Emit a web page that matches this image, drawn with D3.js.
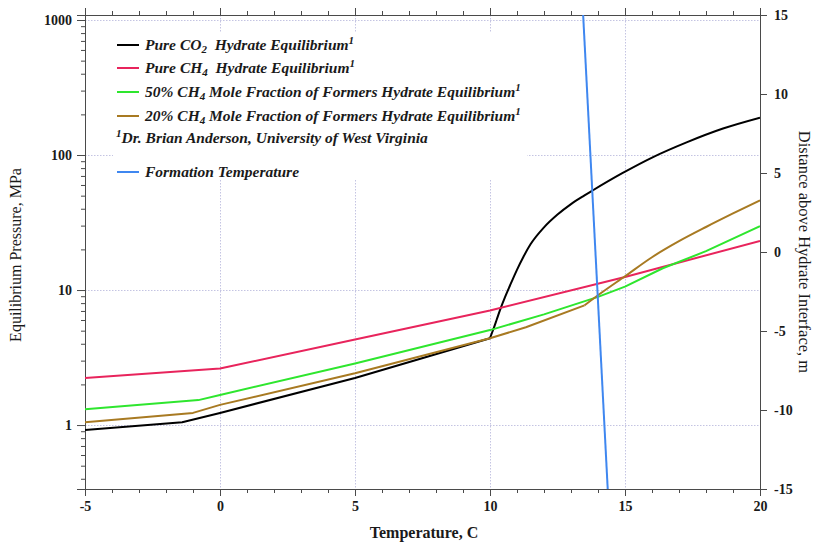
<!DOCTYPE html>
<html><head><meta charset="utf-8">
<script src="https://cdn.jsdelivr.net/npm/d3@7"></script>
<style>
body{margin:0;background:#fff}
text{font-family:"Liberation Serif","DejaVu Serif",serif;}
</style>
</head><body>
<svg id="c" width="815" height="544"></svg>
<script>
// ---- data ----
const co2T = [-5, -1.4, 0, 5, 10, 10.12, 10.25, 10.37, 10.56, 10.74, 10.99, 11.23, 11.5, 12, 12.5, 13, 13.5, 13.8, 14.9, 16.04, 17.28, 18.63, 20];
const co2P = [0.92, 1.05, 1.23, 2.23, 4.4, 5.1, 6.05, 7.1, 8.9, 10.8, 14.0, 17.5, 21.8, 29.1, 36.2, 43.3, 50.2, 54.6, 73.3, 96.5, 124, 157, 189];

const ch4T = [-5, 0, 5, 10, 15, 20];
const ch4P = [2.23, 2.62, 4.3, 7.05, 12.5, 23.1];

const mix50T = [-5, -0.8, 0, 5, 10, 12, 14, 15, 16.4, 18, 20];
const mix50P = [1.31, 1.53, 1.67, 2.86, 5.05, 6.6, 8.9, 10.6, 14.5, 19.4, 29.7];

const mix20T = [-5, -1.0, 0, 5, 10, 11.33, 13.5, 14.1, 15, 16, 17, 18, 19, 20];
const mix20P = [1.05, 1.23, 1.41, 2.42, 4.4, 5.3, 7.7, 9.46, 12.65, 17.5, 23.0, 29.3, 36.9, 46.2];

const formDist = [15, -15];
const formT = [13.45, 14.36];

const xTicks = [-5, 0, 5, 10, 15, 20];
const xMinor = d3.range(-5, 21, 1);
const xGrid = [0, 5, 10, 15];
const yTicks = [1, 10, 100, 1000];
const yMinor = [0.4,0.5,0.6,0.7,0.8,0.9,2,3,4,5,6,7,8,9,20,30,40,50,60,70,80,90,200,300,400,500,600,700,800,900];
const rTicks = [-15, -10, -5, 0, 5, 10, 15];

const seriesColors = ["#000000", "#e8245c", "#2ee62e", "#a87a22"];
const formColor = "#3f87f0";

const legendRows = [
  [{t:"Pure CO"},{t:"2",s:"sub"},{t:"  Hydrate Equilibrium"},{t:"1",s:"sup"}],
  [{t:"Pure CH"},{t:"4",s:"sub"},{t:"  Hydrate Equilibrium"},{t:"1",s:"sup"}],
  [{t:"50% CH"},{t:"4",s:"sub"},{t:" Mole Fraction of Formers Hydrate Equilibrium"},{t:"1",s:"sup"}],
  [{t:"20% CH"},{t:"4",s:"sub"},{t:" Mole Fraction of Formers Hydrate Equilibrium"},{t:"1",s:"sup"}]
];
const footnote = [{t:"1",s:"sup"},{t:"Dr. Brian Anderson, University of West Virginia"}];
const formLabel = "Formation Temperature";

// ---- layout ----
const L = 85, R = 760, T = 15, B = 489;
const svg = d3.select("#c");
const x = d3.scaleLinear().domain([-5, 20]).range([L, R]);
const y = d3.scaleLog().domain([0.336, 1089]).range([B, T]);
const yR = d3.scaleLinear().domain([-15, 15]).range([B, T]);

svg.append("defs").append("clipPath").attr("id","plot")
  .append("rect").attr("x",L).attr("y",T).attr("width",R-L).attr("height",B-T);

// grid
const grid = svg.append("g").attr("stroke","#c4c4e2").attr("stroke-width",1).attr("stroke-dasharray","1.5,1.5");
grid.selectAll("line.v").data(xGrid).join("line").attr("class","v")
  .attr("x1",d=>x(d)+0.5).attr("x2",d=>x(d)+0.5).attr("y1",T).attr("y2",B);
grid.selectAll("line.h").data(yTicks).join("line").attr("class","h")
  .attr("x1",L).attr("x2",R).attr("y1",d=>Math.round(y(d))+0.5).attr("y2",d=>Math.round(y(d))+0.5);

// legend background
svg.append("rect").attr("x",113).attr("y",32).attr("width",414).attr("height",148).attr("fill","#fff");

// axes
const axisColor = "#4a4a4a";
function styleAxis(g){
  g.selectAll(".domain").attr("stroke",axisColor);
  g.selectAll(".tick line").attr("stroke",axisColor);
  g.selectAll(".tick text").attr("fill","#1a1a1a").style("font-family","'Liberation Serif',serif")
    .style("font-size","14px").style("font-weight","bold");
}
const fmt = d => String(d);
svg.append("g").attr("transform",`translate(0,${B})`).call(d3.axisBottom(x).tickValues(xMinor).tickSize(4).tickFormat("")).call(styleAxis);
svg.append("g").attr("transform",`translate(0,${B})`).call(d3.axisBottom(x).tickValues(xTicks).tickSize(7).tickPadding(5).tickFormat(fmt)).call(styleAxis);
svg.append("g").attr("transform",`translate(0,${T})`).call(d3.axisTop(x).tickValues(xMinor).tickSize(4).tickFormat("")).call(styleAxis);
svg.append("g").attr("transform",`translate(0,${T})`).call(d3.axisTop(x).tickValues(xTicks).tickSize(7).tickFormat("")).call(styleAxis);
svg.append("g").attr("transform",`translate(${L},0)`).call(d3.axisLeft(y).tickValues(yMinor).tickSize(4).tickFormat("")).call(styleAxis);
svg.append("g").attr("transform",`translate(${L},0)`).call(d3.axisLeft(y).tickValues(yTicks).tickSize(8).tickPadding(5).tickFormat(fmt)).call(styleAxis);
svg.append("g").attr("transform",`translate(${R},0)`).call(d3.axisRight(yR).tickValues(rTicks).tickSize(7).tickPadding(7).tickFormat(fmt)).call(styleAxis);

// curves: straight segments up to a break temperature, smooth afterwards
const plot = svg.append("g").attr("clip-path","url(#plot)");
const series = [[co2T,co2P],[ch4T,ch4P],[mix50T,mix50P],[mix20T,mix20P]];
const smoothFrom = [10, Infinity, Infinity, 13.5];
series.forEach(([tt,pp],i)=>{
  const pts = d3.zip(tt,pp);
  const g = plot.append("g").attr("fill","none").attr("stroke",seriesColors[i])
    .attr("stroke-width",2).attr("stroke-linejoin","round");
  const lin = pts.filter(d=>d[0] <= smoothFrom[i]);
  const smo = pts.filter(d=>d[0] >= smoothFrom[i]);
  g.append("path").datum(lin).attr("d", d3.line().x(d=>x(d[0])).y(d=>y(d[1])));
  if (smo.length > 1)
    g.append("path").datum(smo).attr("d", d3.line().x(d=>x(d[0])).y(d=>y(d[1])).curve(d3.curveMonotoneX));
});
const lineR = d3.line().x(d=>x(d[0])).y(d=>yR(d[1]));
plot.append("path").datum(d3.zip(formT, formDist)).attr("d",lineR)
  .attr("fill","none").attr("stroke",formColor).attr("stroke-width",2);

// legend
const lg = svg.append("g");
const rowY = [45, 68, 92, 116];
function richText(g, xPos, yPos, parts){
  const txt = g.append("text").attr("x",xPos).attr("y",yPos)
    .style("font-size","15.5px").style("font-style","italic").style("font-weight","600")
    .style("white-space","pre").attr("fill","#1a1a1a");
  let shift = 0;
  parts.forEach(p=>{
    const ts = txt.append("tspan").text(p.t);
    const target = p.s==="sub" ? 3 : p.s==="sup" ? -6 : 0;
    ts.attr("dy", target - shift);
    shift = target;
    if(p.s) ts.style("font-size","11px");
  });
  return txt;
}
legendRows.forEach((parts,i)=>{
  lg.append("line").attr("x1",117).attr("x2",139).attr("y1",rowY[i]).attr("y2",rowY[i])
    .attr("stroke",seriesColors[i]).attr("stroke-width",2);
  richText(lg, 145, rowY[i]+5, parts);
});
richText(lg, 116, 143, footnote);
lg.append("line").attr("x1",117).attr("x2",139).attr("y1",172).attr("y2",172)
  .attr("stroke",formColor).attr("stroke-width",2);
richText(lg, 145, 177, [{t:formLabel}]);

// axis titles
svg.append("text").attr("transform","translate(21,255) rotate(-90)").attr("text-anchor","middle")
  .style("font-size","16px").attr("fill","#1a1a1a").text("Equilibrium Pressure, MPa");
svg.append("text").attr("transform","translate(799,252) rotate(90)").attr("text-anchor","middle")
  .style("font-size","16.5px").attr("fill","#1a1a1a").text("Distance above Hydrate Interface, m");
svg.append("text").attr("x",424).attr("y",538).attr("text-anchor","middle")
  .style("font-size","16px").style("font-weight","bold").attr("fill","#1a1a1a").text("Temperature, C");
</script>
</body></html>
